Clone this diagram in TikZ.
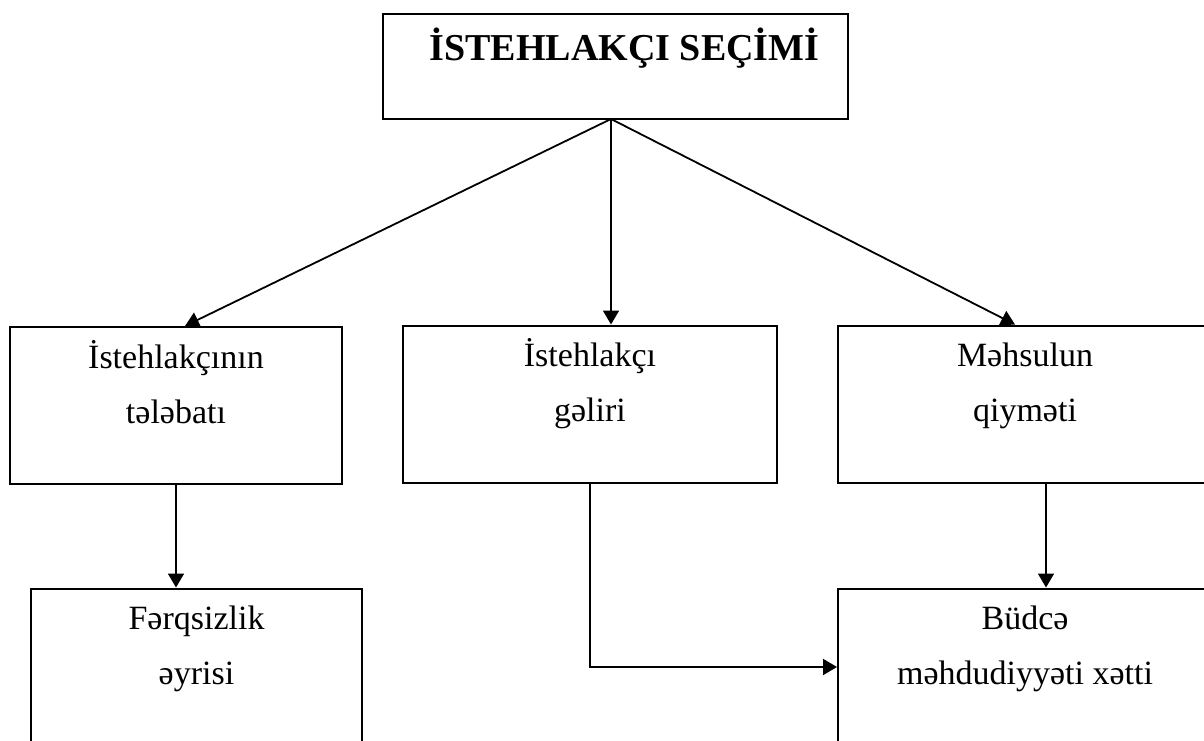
\documentclass[tikz,border=0pt]{standalone}
\usepackage{fontspec}
\setmainfont{Liberation Serif}
\usepackage{tikz}
\usetikzlibrary{positioning, arrows.meta, calc}

\begin{document}
\begin{tikzpicture}[
    x=0.5pt, y=-0.5pt,
    box/.style={draw, line width=1pt, inner xsep=0pt, inner ysep=0pt, align=center,
        font=\fontsize{17}{27.5}\selectfont, text height=48pt, text depth=30.5pt},
    headbox/.style={draw, line width=1pt, inner sep=0pt, minimum width=232.5pt, minimum height=52.5pt,
        font=\fontsize{19}{24}\selectfont\bfseries},
    arr/.style={-{Triangle[length=7pt, width=8pt]}, line width=0.9pt}
]
    \useasboundingbox (0,0) rectangle (1204,740);
    \clip (0,0) rectangle (1204,740);

    % top
    \node[headbox, text height=23pt, text depth=29.5pt] (choice) at (615.5,66.5) {\hspace*{9pt}İSTEHLAKÇI SEÇİMİ};
    \coordinate (hub) at (611,119);

    % factors
    \node[box, minimum width=166pt] (need)   at (176,405.5)  {İstehlakçının\\tələbatı};
    \node[box, minimum width=187pt] (income) at (590,404)    {İstehlakçı\\gəliri};
    \node[box, minimum width=187pt] (price)  at (1025,404)   {Məhsulun\\qiyməti};

    % results
    \node[box, minimum width=165.5pt] (indiff) at (196.5,667) {Fərqsizlik\\əyrisi};
    \node[box, minimum width=187pt]   (budget) at (1025,667)  {Büdcə\\məhdudiyyəti xətti};

    \draw[line width=0.9pt] (choice.south -| hub) -- (hub);
    \draw[arr] (hub) -- ([xshift=4.5pt]need.north);
    \draw[arr] (hub) -- ([xshift=10.5pt]income.north);
    \draw[arr] (hub) -- ([xshift=-5pt]price.north);
    \draw[arr] (need.south) -- (need.south |- indiff.north);
    \draw[arr] ([xshift=10.5pt]price.south) -- ([xshift=10.5pt]price.south |- budget.north);
    \draw[arr] (income.south) |- (budget.west);
\end{tikzpicture}
\end{document}
